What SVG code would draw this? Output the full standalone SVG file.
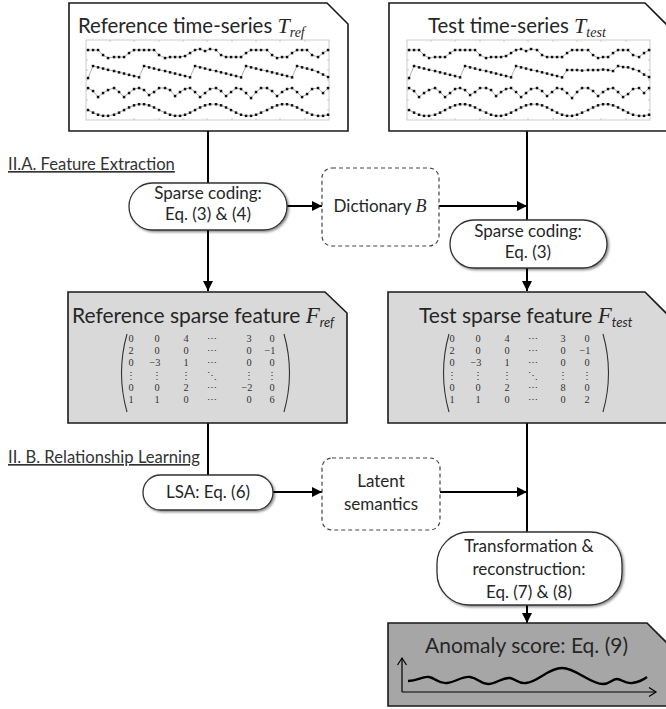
<svg xmlns="http://www.w3.org/2000/svg" width="666" height="709" viewBox="0 0 666 709">
<defs>
<style>
.t{font-family:Lato,"Open Sans","Liberation Sans",sans-serif;fill:#262626}
.m{font-family:"Liberation Serif","DejaVu Serif",serif;fill:#333;font-size:10.3px}
.sec{font-family:Lato,"Liberation Sans",sans-serif;fill:#333;font-size:16.6px;text-decoration:underline}
.frame{fill:#fff;stroke:#1a1a1a;stroke-width:1.6}
.grey{fill:#d9d9d9;stroke:#1a1a1a;stroke-width:1.6}
.pill{fill:#fff;stroke:#333;stroke-width:1.3;filter:url(#sh)}
.dash{fill:#fff;stroke:#444;stroke-width:1.2;stroke-dasharray:4 3}
.con{fill:none;stroke:#000;stroke-width:2}
.ser{fill:none;stroke:#9a9a9a;stroke-width:0.8;marker-start:url(#dot);marker-mid:url(#dot);marker-end:url(#dot)}
.par{fill:none;stroke:#333;stroke-width:1.1}
</style>
<filter id="sh" x="-10%" y="-10%" width="125%" height="140%">
<feDropShadow dx="1.5" dy="1.5" stdDeviation="1" flood-color="#000" flood-opacity="0.45"/>
</filter>
<marker id="dot" markerUnits="userSpaceOnUse" markerWidth="4" markerHeight="4" refX="2" refY="2">
<rect x="0.8" y="0.8" width="2.5" height="2.5" fill="#111"/>
</marker>
<marker id="arr" markerUnits="userSpaceOnUse" markerWidth="12" markerHeight="12" refX="10" refY="5" orient="auto">
<path d="M0,0 L10,5 L0,10 Z" fill="#000"/>
</marker>
<marker id="open" markerUnits="userSpaceOnUse" markerWidth="12" markerHeight="12" refX="8" refY="5" orient="auto">
<path d="M1,0.5 L8,5 L1,9.5" fill="none" stroke="#000" stroke-width="1.2"/>
</marker>
<g id="chartbase">
<rect x="86" y="40" width="243" height="80" fill="#fff" stroke="#b5b5b5" stroke-width="0.7"/>
<path d="M86,50h2M86,60h2M86,70h2M86,80h2M86,90h2M86,100h2M86,110h2M327,50h2M327,60h2M327,70h2M327,80h2M327,90h2M327,100h2M327,110h2M110,118v2M134,118v2M159,118v2M183,118v2M207,118v2M232,118v2M256,118v2M280,118v2M305,118v2M110,40v2M134,40v2M159,40v2M183,40v2M207,40v2M232,40v2M256,40v2M280,40v2M305,40v2" stroke="#b5b5b5" stroke-width="0.7"/>
<polyline class="ser" points="88,50 93,50 98,50 103,55 108,58 114,57 119,57 124,57 129,53 134,50 139,50 144,50 149,50 154,50 159,55 165,58 170,57 175,57 180,57 185,56 190,53 195,50 200,49 205,51 210,49 216,50 221,55 226,57 231,57 236,57 241,57 246,53 251,50 256,50 261,50 267,50 272,55 277,58 282,57 287,57 292,53 297,50 302,50 307,50 312,55 318,57 323,53 328,50"/>
<polyline class="ser" points="88,88 93,91 98,97 103,93 108,90 114,88 119,92 124,97 129,93 134,89 139,88 144,90 149,95 154,92 159,88 165,88 170,90 175,96 180,92 185,89 190,88 195,92 200,97 205,93 210,89 216,88 221,91 226,96 231,92 236,88 241,89 246,93 251,98 256,92 261,88 267,88 272,91 277,96 282,92 287,89 292,88 297,92 302,97 307,94 312,89 318,88 323,93 328,88"/>
<polyline class="ser" points="88,110 93,112.6 98,114.7 103,115.8 108,115.8 114,114.7 119,112.6 124,110 129,107.4 134,105.3 139,104.2 144,104.2 149,105.3 154,107.4 159,110 165,112.6 170,114.7 175,115.8 180,115.8 185,114.7 190,112.6 195,110 200,107.4 205,105.3 210,104.2 216,104.2 221,105.3 226,107.4 231,110 236,112.6 241,114.7 246,115.8 251,115.8 256,114.7 261,112.6 267,110 272,107.4 277,105.3 282,104.2 287,104.2 292,105.3 297,107.4 302,110 307,112.6 312,114.7 318,115.8 323,115.8 328,114.7"/>
</g>
</defs>

<g id="connectors">
<line class="con" x1="208" y1="131" x2="208" y2="291" marker-end="url(#arr)"/>
<line class="con" x1="527" y1="131" x2="527" y2="291" marker-end="url(#arr)"/>
<line class="con" x1="287" y1="206" x2="322" y2="206" marker-end="url(#arr)"/>
<line class="con" x1="439" y1="206" x2="527" y2="206" marker-end="url(#arr)"/>
<line class="con" x1="208" y1="423" x2="208" y2="476"/>
<line class="con" x1="273" y1="492" x2="322" y2="492" marker-end="url(#arr)"/>
<line class="con" x1="440" y1="492" x2="527" y2="492" marker-end="url(#arr)"/>
<line class="con" x1="527" y1="423" x2="527" y2="533"/>
<line class="con" x1="527" y1="605" x2="527" y2="623" marker-end="url(#arr)"/>
</g>

<g id="ref-series">
<polygon class="frame" points="69,3 327,3 348,24 348,131 69,131"/>
<text class="t" x="78" y="33" font-size="20.4">Reference time-series <tspan font-family="'Liberation Serif',serif" font-style="italic" font-size="22">T</tspan><tspan font-family="'Liberation Serif',serif" font-style="italic" font-size="14" dy="4">ref</tspan></text>
<use href="#chartbase"/>
<polyline class="ser" points="88,78 93,66 98,67.3 103,68.5 108,69.8 114,71 119,72.3 124,73.5 129,74.8 134,76 139,77.3 144,66 149,67.3 154,68.5 159,69.8 165,71 170,72.3 175,73.5 180,74.8 185,76 190,77.3 195,66 200,67.3 205,68.5 210,69.8 216,71 221,72.3 226,73.5 231,74.8 236,76 241,77.3 246,66 251,67.3 256,68.5 261,69.8 267,71 272,72.3 277,73.5 282,74.8 287,76 292,77.3 297,66 302,67.3 307,68.5 312,69.8 318,72 323,74.5 328,77"/>
</g>

<g id="test-series">
<polygon class="frame" points="389,3 645,3 667,25 667,131 389,131"/>
<text class="t" x="428" y="33" font-size="20.4">Test time-series <tspan font-family="'Liberation Serif',serif" font-style="italic" font-size="22">T</tspan><tspan font-family="'Liberation Serif',serif" font-style="italic" font-size="14" dy="4">test</tspan></text>
<use href="#chartbase" transform="translate(321,0)"/>
<polyline class="ser" transform="translate(321,0)" points="88,78 93,66 98,67.3 103,68.5 108,69.8 114,71 119,72.3 124,73.5 129,74.8 134,76 139,77.3 144,66 149,67.3 154,68.5 159,69.8 165,71 170,72.3 175,73.5 180,74.8 185,76 190,77.3 195,66 200,67.3 205,68.5 210,69.8 216,71 221,72.3 226,73.5 231,74.8 236,76 241,77.3 246,70 251,70 256,70 261,70.5 267,70 272,70 277,70 282,69.5 287,70 292,71 297,66 302,67 307,67.3 312,69 318,71 323,74.5 328,77"/>
</g>

<text class="sec" x="8" y="170">II.A. Feature Extraction</text>
<text class="sec" x="8" y="463">II. B. Relationship Learning</text>

<g id="sparse-ref">
<rect class="pill" x="129" y="183" width="158" height="47" rx="23.5"/>
<text class="t" font-size="17" text-anchor="middle"><tspan x="208" y="199">Sparse coding:</tspan><tspan x="208" y="219.5">Eq. (3) &amp; (4)</tspan></text>
</g>

<g id="dictionary">
<rect class="dash" x="322" y="168" width="117" height="78" rx="10"/>
<text class="t" x="380" y="212" font-size="17" text-anchor="middle">Dictionary <tspan font-family="'Liberation Serif',serif" font-style="italic" font-size="18">B</tspan></text>
</g>

<g id="sparse-test">
<rect class="pill" x="450" y="220" width="157" height="48" rx="24"/>
<text class="t" font-size="17" text-anchor="middle"><tspan x="528" y="237">Sparse coding:</tspan><tspan x="528" y="257.5">Eq. (3)</tspan></text>
</g>

<g id="ref-feature">
<polygon class="grey" points="68,292 325,292 347,313 347,423 68,423"/>
<text class="t" x="72" y="323" font-size="21">Reference sparse feature <tspan font-family="'Liberation Serif',serif" font-style="italic" font-size="23">F</tspan><tspan font-style="italic" font-size="13" dy="4">ref</tspan></text>
<path class="par" d="M127,334 Q116,373 127,412"/>
<path class="par" d="M284,334 Q295,373 284,412"/>
<g class="m" text-anchor="middle">
<text y="342"><tspan x="131">0</tspan><tspan x="157">0</tspan><tspan x="186">4</tspan><tspan x="212">⋯</tspan><tspan x="249">3</tspan><tspan x="272">0</tspan></text>
<text y="354"><tspan x="131">2</tspan><tspan x="157">0</tspan><tspan x="186">0</tspan><tspan x="212">⋯</tspan><tspan x="249">0</tspan><tspan x="270">−1</tspan></text>
<text y="366"><tspan x="131">0</tspan><tspan x="155">−3</tspan><tspan x="186">1</tspan><tspan x="212">⋯</tspan><tspan x="249">0</tspan><tspan x="272">0</tspan></text>
<text y="379"><tspan x="131">⋮</tspan><tspan x="157">⋮</tspan><tspan x="186">⋮</tspan><tspan x="212">⋱</tspan><tspan x="249">⋮</tspan><tspan x="272">⋮</tspan></text>
<text y="391"><tspan x="131">0</tspan><tspan x="157">0</tspan><tspan x="186">2</tspan><tspan x="212">⋯</tspan><tspan x="247">−2</tspan><tspan x="272">0</tspan></text>
<text y="403"><tspan x="131">1</tspan><tspan x="157">1</tspan><tspan x="186">0</tspan><tspan x="212">⋯</tspan><tspan x="249">0</tspan><tspan x="272">6</tspan></text>
</g>
</g>

<g id="test-feature">
<polygon class="grey" points="388,292 645,292 667,314 667,423 388,423"/>
<text class="t" x="419" y="323" font-size="21">Test sparse feature <tspan font-family="'Liberation Serif',serif" font-style="italic" font-size="23">F</tspan><tspan font-style="italic" font-size="13" dy="4">test</tspan></text>
<path class="par" d="M449,334 Q438,373 449,412"/>
<path class="par" d="M603,334 Q614,373 603,412"/>
<g class="m" text-anchor="middle">
<text y="342"><tspan x="452">0</tspan><tspan x="478">0</tspan><tspan x="507">4</tspan><tspan x="533">⋯</tspan><tspan x="563">3</tspan><tspan x="587">0</tspan></text>
<text y="354"><tspan x="452">2</tspan><tspan x="478">0</tspan><tspan x="507">0</tspan><tspan x="533">⋯</tspan><tspan x="563">0</tspan><tspan x="585">−1</tspan></text>
<text y="366"><tspan x="452">0</tspan><tspan x="476">−3</tspan><tspan x="507">1</tspan><tspan x="533">⋯</tspan><tspan x="563">0</tspan><tspan x="587">0</tspan></text>
<text y="379"><tspan x="452">⋮</tspan><tspan x="478">⋮</tspan><tspan x="507">⋮</tspan><tspan x="533">⋱</tspan><tspan x="563">⋮</tspan><tspan x="587">⋮</tspan></text>
<text y="391"><tspan x="452">0</tspan><tspan x="478">0</tspan><tspan x="507">2</tspan><tspan x="533">⋯</tspan><tspan x="563">8</tspan><tspan x="587">0</tspan></text>
<text y="403"><tspan x="452">1</tspan><tspan x="478">1</tspan><tspan x="507">0</tspan><tspan x="533">⋯</tspan><tspan x="563">0</tspan><tspan x="587">2</tspan></text>
</g>
</g>

<g id="lsa">
<rect class="pill" x="143" y="475" width="130" height="35" rx="17.5"/>
<text class="t" x="208" y="498" font-size="17" text-anchor="middle">LSA: Eq. (6)</text>
</g>

<g id="latent">
<rect class="dash" x="322" y="458" width="118" height="72" rx="10"/>
<text class="t" font-size="17" text-anchor="middle"><tspan x="381" y="487">Latent</tspan><tspan x="381" y="510">semantics</tspan></text>
</g>

<g id="transform">
<rect class="pill" x="437" y="532" width="185" height="73" rx="32"/>
<text class="t" font-size="17" text-anchor="middle"><tspan x="529" y="552">Transformation &amp;</tspan><tspan x="529" y="575">reconstruction:</tspan><tspan x="529" y="598">Eq. (7) &amp; (8)</tspan></text>
</g>

<g id="anomaly">
<polygon fill="#a6a6a6" stroke="#1a1a1a" stroke-width="1.6" points="388,623 647,623 667,643 667,706 388,706"/>
<text class="t" x="425" y="653" font-size="21">Anomaly score: Eq. (9)</text>
<line x1="402" y1="692" x2="402" y2="658" stroke="#000" stroke-width="1.2" marker-end="url(#open)"/>
<line x1="402" y1="692" x2="656" y2="692" stroke="#000" stroke-width="1.2" marker-end="url(#open)"/>
<path d="M408,681 C418,681 422,676 429,677 C436,678 438,684 447,683 C456,682 462,676 470,677 C478,678 480,684 488,684 C497,684 502,677 510,678 C516,679 518,684 526,683 C538,682 548,668 562,668 C576,668 590,684 603,684 C610,684 612,679 617,679 C622,679 624,684 632,683 C640,682 643,680 647,677" fill="none" stroke="#000" stroke-width="2.4"/>
</g>
</svg>
